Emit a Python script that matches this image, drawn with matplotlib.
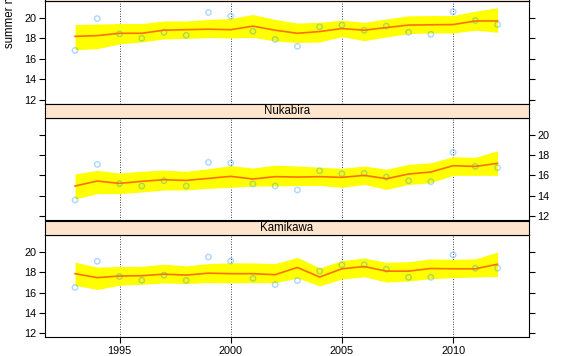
import matplotlib
matplotlib.use('Agg')
import matplotlib.pyplot as plt

plt.rcParams['font.family'] = ['Liberation Sans', 'DejaVu Sans']

years = list(range(1993, 2013))
# top panel's strip lies above the visible area, so its name is not shown
stations = ['', 'Nukabira', 'Kamikawa']

# observed summer mean temperature (points)
obs_top = [16.83, 19.94, 18.44, 18.01, 18.6, 18.3, 20.53, 20.17, 18.7, 17.9,
           17.23, 19.13, 19.3, 18.8, 19.2, 18.6, 18.4, 20.6, 19.75, 19.35]
obs_mid = [13.57, 17.08, 15.18, 14.95, 15.47, 14.95, 17.28, 17.21, 15.15, 14.95,
           14.56, 16.45, 16.16, 16.2, 15.83, 15.47, 15.37, 18.26, 16.88, 16.75]
obs_bot = [16.49, 19.07, 17.58, 17.2, 17.71, 17.2, 19.49, 19.1, 17.39, 16.78,
           17.17, 18.1, 18.72, 18.72, 18.29, 17.49, 17.49, 19.69, 18.39, 18.39]

# fitted values
fit_top = [18.2, 18.27, 18.5, 18.5, 18.8, 18.85, 18.9, 18.85, 19.2, 18.8,
           18.5, 18.67, 18.96, 18.8, 19.06, 19.3, 19.33, 19.35, 19.7, 19.7]
fit_mid = [14.95, 15.44, 15.21, 15.41, 15.57, 15.5, 15.7, 15.9, 15.64, 15.87,
           15.83, 15.87, 15.8, 16.0, 15.67, 16.13, 16.33, 16.95, 16.88, 17.18]
fit_bot = [17.85, 17.46, 17.62, 17.65, 17.8, 17.71, 17.9, 17.85, 17.85, 17.75,
           18.46, 17.52, 18.33, 18.55, 18.1, 18.1, 18.36, 18.33, 18.33, 18.78]

# interval band
hi_top = [19.35, 19.4, 19.45, 19.45, 19.7, 19.7, 19.85, 19.94, 20.33, 19.85,
          19.5, 19.57, 19.77, 19.57, 19.9, 20.2, 20.23, 20.23, 20.65, 21.0]
lo_top = [16.9, 17.0, 17.46, 17.65, 17.95, 18.0, 18.08, 18.04, 18.1, 17.75,
          17.6, 17.65, 18.17, 17.78, 18.14, 18.47, 18.53, 18.53, 18.8, 18.6]
hi_mid = [16.13, 16.49, 16.23, 16.4, 16.52, 16.4, 16.65, 16.95, 16.72, 17.0,
          16.92, 16.8, 16.69, 16.92, 16.6, 17.08, 17.24, 17.83, 17.77, 18.42]
lo_mid = [13.67, 14.2, 14.2, 14.36, 14.56, 14.56, 14.72, 14.82, 14.95, 14.95,
          15.0, 15.0, 14.82, 15.1, 14.62, 15.1, 15.27, 16.0, 16.0, 16.0]
hi_bot = [18.97, 18.49, 18.55, 18.58, 18.78, 18.62, 18.84, 18.91, 18.91, 18.84,
          19.45, 18.42, 19.13, 19.39, 18.97, 19.03, 19.3, 19.26, 19.3, 19.97]
lo_bot = [16.71, 16.3, 16.71, 16.81, 16.94, 16.88, 16.97, 16.94, 16.97, 16.97,
          17.42, 16.65, 17.32, 17.55, 17.03, 17.13, 17.36, 17.45, 17.52, 17.58]

yticks = [12, 14, 16, 18, 20]
xticks = [1995, 2000, 2005, 2010]

fig = plt.figure(figsize=(5.66, 3.56), dpi=100)

x0, w = 45 / 566, 483.7 / 566
H = 356.0
# (top, bottom) in pixels for each panel
panel_px = [(1, 104), (118, 220), (235, 337.3)]
strip_h = 14.5

panels = [(obs_top, fit_top, hi_top, lo_top),
          (obs_mid, fit_mid, hi_mid, lo_mid),
          (obs_bot, fit_bot, hi_bot, lo_bot)]

for i, (obs, fit, hi, lo) in enumerate(panels):
    top, bot = panel_px[i]
    ax = fig.add_axes([x0, 1 - bot / H, w, (bot - top) / H])
    ax.fill_between(years, lo, hi, color='#FFFF00', lw=0, zorder=1)
    ax.scatter(years, obs, s=15, facecolors='none', edgecolors='#0080FF',
               alpha=0.3, linewidths=1.1, zorder=2)
    ax.plot(years, fit, color='#FF7000', lw=1.2, zorder=3)
    for xt in xticks:
        ax.axvline(xt, color='black', ls=(0, (1, 2)), lw=0.6, zorder=0)
    ax.set_xlim(1991.65, 2013.4)
    ax.set_ylim(11.6, 21.65)
    ax.set_yticks(yticks)
    ax.set_xticks(xticks)
    for s in ax.spines.values():
        s.set_linewidth(0.8)
    ax.tick_params(axis='both', direction='out', length=4, width=0.8,
                   labelsize=7.8, pad=2)
    ax.tick_params(axis='y', left=True, right=True)
    if i == 1:
        ax.tick_params(axis='y', labelleft=False, labelright=True)
    else:
        ax.tick_params(axis='y', labelleft=True, labelright=False)
    if i == 2:
        ax.tick_params(axis='x', bottom=True, labelbottom=True)
    else:
        ax.tick_params(axis='x', bottom=False, labelbottom=False)

    # strip above each panel
    sax = fig.add_axes([x0, 1 - top / H, w, strip_h / H])
    sax.set_facecolor('#FFE5CC')
    sax.set_xticks([])
    sax.set_yticks([])
    for s in sax.spines.values():
        s.set_linewidth(0.8)
    if stations[i]:
        sax.text(0.5, 0.45, stations[i], ha='center', va='center', fontsize=8.3)

# y label runs past the top edge, as in the cropped original
fig.text(10 / 566, 1 - 48 / H, 'summer mean temperature', rotation=90,
         rotation_mode='anchor', ha='left', va='center', fontsize=8.3)

fig.savefig('out.png', dpi=100)
